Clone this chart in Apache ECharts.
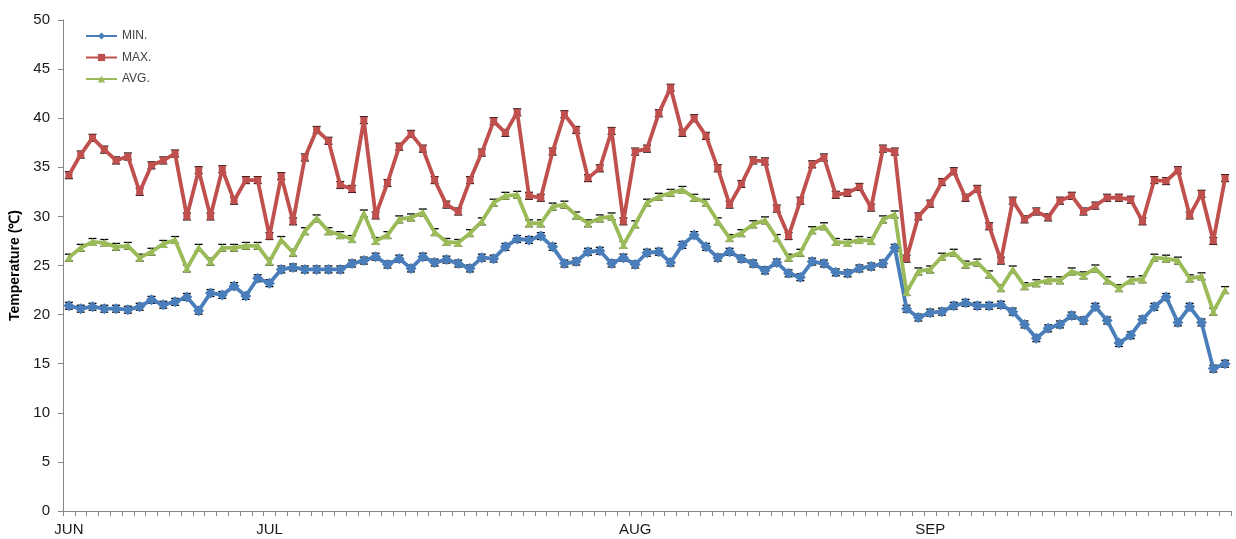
<!DOCTYPE html>
<html>
<head>
<meta charset="utf-8">
<script src="https://cdn.jsdelivr.net/npm/echarts@6/dist/echarts.min.js"></script>
<style>
  html, body { margin: 0; padding: 0; background: #fff; }
  #chart { width: 1236px; height: 539px; }
</style>
</head>
<body>
<div id="chart"></div>
<script>
// Daily temperatures, June to September (°C)
const minTemp = [
  20.9, 20.6, 20.8, 20.6, 20.6, 20.5, 20.8, 21.5, 21.0, 21.3,
  21.8, 20.4, 22.2, 22.0, 22.9, 21.9, 23.7, 23.2, 24.6, 24.8,
  24.6, 24.6, 24.6, 24.6, 25.2, 25.5, 25.9, 25.1, 25.7, 24.7,
  25.9, 25.3, 25.6, 25.2, 24.7, 25.8, 25.7, 26.9, 27.7, 27.6,
  28.0, 26.9, 25.2, 25.4, 26.4, 26.5, 25.2, 25.8, 25.1, 26.3,
  26.4, 25.3, 27.1, 28.1, 26.9, 25.8, 26.4, 25.7, 25.2, 24.5,
  25.3, 24.2, 23.8, 25.4, 25.2, 24.3, 24.2, 24.7, 24.9, 25.2,
  26.8, 20.6, 19.7, 20.2, 20.3, 20.9, 21.2, 20.9, 20.9, 21.0,
  20.3, 19.0, 17.6, 18.6, 19.0, 19.9, 19.4, 20.8, 19.4, 17.1,
  17.9, 19.5, 20.8, 21.8, 19.2, 20.8, 19.2, 14.5, 15.0
];
const maxTemp = [
  34.2, 36.3, 38.0, 36.8, 35.7, 36.1, 32.5, 35.2, 35.7, 36.4,
  30.0, 34.7, 30.0, 34.8, 31.6, 33.7, 33.7, 28.0, 34.1, 29.5,
  36.0, 38.8, 37.7, 33.2, 32.8, 39.8, 30.1, 33.4, 37.1, 38.4,
  36.9, 33.7, 31.2, 30.5, 33.7, 36.5, 39.7, 38.5, 40.6, 32.1,
  31.9, 36.6, 40.4, 38.8, 33.9, 34.9, 38.7, 29.5, 36.6, 36.9,
  40.5, 43.1, 38.5, 40.0, 38.2, 34.9, 31.2, 33.3, 35.7, 35.6,
  30.8, 28.0, 31.6, 35.3, 36.0, 32.2, 32.4, 33.0, 30.9, 36.9,
  36.6, 25.7, 30.0, 31.3, 33.5, 34.6, 31.9, 32.8, 29.0, 25.5,
  31.6, 29.7, 30.5, 29.9, 31.6, 32.1, 30.5, 31.1, 31.9, 31.9,
  31.7, 29.5, 33.7, 33.6, 34.7, 30.1, 32.3, 27.5, 33.9
];
const avgTemp = [
  25.8, 26.8, 27.4, 27.3, 26.9, 27.0, 25.8, 26.4, 27.2, 27.6,
  24.7, 26.8, 25.4, 26.8, 26.8, 27.0, 27.0, 25.4, 27.6, 26.3,
  28.5, 29.8, 28.5, 28.1, 27.7, 30.3, 27.5, 28.1, 29.7, 29.9,
  30.4, 28.4, 27.4, 27.3, 28.3, 29.5, 31.4, 32.1, 32.2, 29.3,
  29.3, 31.0, 31.2, 30.1, 29.3, 29.8, 30.0, 27.1, 29.2, 31.4,
  32.0, 32.4, 32.7, 31.9, 31.4, 29.5, 27.8, 28.3, 29.2, 29.6,
  27.8, 25.8, 26.3, 28.6, 29.0, 27.4, 27.3, 27.6, 27.5, 29.7,
  30.2, 22.3, 24.4, 24.6, 25.9, 26.3, 25.1, 25.3, 24.1, 22.7,
  24.6, 22.9, 23.2, 23.5, 23.5, 24.4, 24.0, 24.7, 23.5, 22.7,
  23.5, 23.6, 25.8, 25.7, 25.5, 23.7, 23.9, 20.3, 22.5
];
// Half-length of the error bars (°C)
const errorHalf = 0.35;
// Month names shown under the first day of each month
const monthLabels = { 0: 'JUN', 17: 'JUL', 48: 'AUG', 73: 'SEP' };
const seriesNames = ['MIN.', 'MAX.', 'AVG.'];
const yTicks = { min: 0, max: 50, step: 5 };

const categories = minTemp.map((_, i) => String(i + 1));

const colors = { min: '#4a7ebb', max: '#c0504d', avg: '#9bbb59' };

function errorBars(values, key) {
  return {
    type: 'custom',
    id: 'err-' + key,
    name: 'err-' + key,
    z: 1,
    silent: true,
    legendHoverLink: false,
    data: values.map((v, i) => [i, v - errorHalf, v + errorHalf]),
    renderItem: function (params, api) {
      const lo = api.coord([api.value(0), api.value(1)]);
      const hi = api.coord([api.value(0), api.value(2)]);
      const cap = 4;
      const style = { stroke: '#000', lineWidth: 1.3 };
      return {
        type: 'group',
        children: [
          { type: 'line', shape: { x1: lo[0], y1: lo[1], x2: hi[0], y2: hi[1] }, style: style },
          { type: 'line', shape: { x1: lo[0] - cap, y1: lo[1], x2: lo[0] + cap, y2: lo[1] }, style: style },
          { type: 'line', shape: { x1: hi[0] - cap, y1: hi[1], x2: hi[0] + cap, y2: hi[1] }, style: style }
        ]
      };
    }
  };
}

function lineSeries(name, values, color, symbol, size) {
  return {
    type: 'line',
    name: name,
    z: 3,
    data: values,
    symbol: symbol,
    symbolSize: size,
    showAllSymbol: true,
    lineStyle: { color: color, width: 3.8 },
    itemStyle: { color: color, borderWidth: 0 },
    emphasis: { disabled: true },
    animation: false
  };
}

const chart = echarts.init(document.getElementById('chart'), null, { renderer: 'canvas' });
chart.setOption({
  backgroundColor: '#ffffff',
  animation: false,
  textStyle: { fontFamily: 'Liberation Sans, Arial, sans-serif' },
  grid: { left: 63, right: 5, top: 20, bottom: 28, containLabel: false, outerBoundsMode: 'none' },
  legend: {
    data: seriesNames,
    orient: 'vertical',
    left: 80,
    top: 25,
    itemWidth: 31,
    itemHeight: 9,
    itemGap: 9.5,
    textStyle: { fontSize: 12, color: '#404040', fontFamily: 'Liberation Sans Narrow, Arial Narrow, sans-serif' }
  },
  xAxis: {
    type: 'category',
    data: categories,
    boundaryGap: true,
    axisLine: { lineStyle: { color: '#868686', width: 1 } },
    axisTick: { show: true, interval: 0, length: 5, lineStyle: { color: '#868686' } },
    axisLabel: {
      interval: 0,
      margin: 11,
      fontSize: 15,
      color: '#1a1a1a',
      fontFamily: 'Liberation Sans Narrow, Arial Narrow, sans-serif',
      formatter: function (value, index) { return monthLabels[index] || ''; }
    },
    splitLine: { show: false }
  },
  yAxis: {
    type: 'value',
    min: yTicks.min,
    max: yTicks.max,
    interval: yTicks.step,
    name: 'Temperature (℃)',
    nameLocation: 'middle',
    nameGap: 38,
    nameTextStyle: { fontSize: 14, fontWeight: 'bold', color: '#000' },
    axisLine: { show: true, lineStyle: { color: '#868686', width: 1 } },
    axisTick: { show: true, length: 5, lineStyle: { color: '#868686' } },
    axisLabel: { fontSize: 15, color: '#1a1a1a', margin: 13 },
    splitLine: { show: false }
  },
  series: [
    errorBars(minTemp, 'min'),
    errorBars(maxTemp, 'max'),
    errorBars(avgTemp, 'avg'),
    lineSeries('MIN.', minTemp, colors.min, 'diamond', 11),
    lineSeries('MAX.', maxTemp, colors.max, 'rect', 7),
    lineSeries('AVG.', avgTemp, colors.avg, 'triangle', 8)
  ]
});
</script>
</body>
</html>
